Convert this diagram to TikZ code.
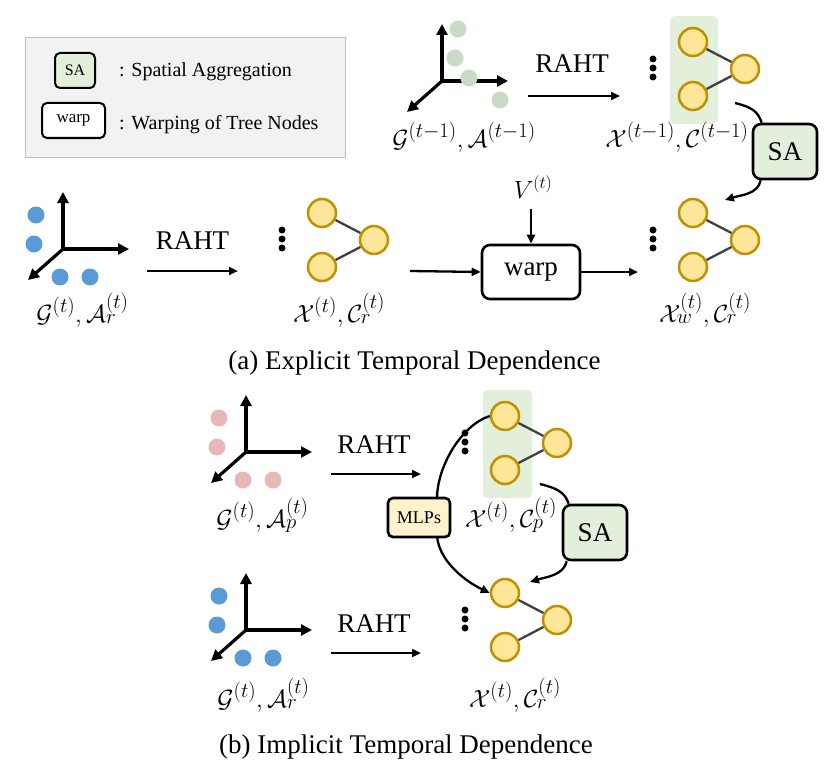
\documentclass[tikz,border=0pt]{standalone}
\usepackage{fontspec}
\setmainfont{Liberation Serif}
\usetikzlibrary{arrows.meta}
\definecolor{treefill}{RGB}{255,230,153}
\definecolor{treeline}{RGB}{191,144,0}
\definecolor{edgegray}{RGB}{64,64,64}
\definecolor{hlgreen}{RGB}{226,239,218}
\definecolor{safill}{RGB}{226,239,218}
\definecolor{ptgreen}{RGB}{200,219,196}
\definecolor{ptblue}{RGB}{91,155,213}
\definecolor{ptpink}{RGB}{230,184,183}
\definecolor{mlpfill}{RGB}{255,242,204}
\definecolor{legbg}{RGB}{242,242,242}
\definecolor{legline}{RGB}{191,191,191}
\tikzset{
  tn/.style={circle,draw=treeline,fill=treefill,line width=2.5pt,minimum size=28pt,inner sep=0pt},
  tedge/.style={draw=edgegray,line width=2.3pt},
  axisboth/.style={line width=3.2pt,line join=miter,{Triangle[length=11pt,width=11pt]}-{Triangle[length=11pt,width=11pt]}},
  axisarrow/.style={line width=3.2pt,line cap=round,-{Triangle[length=11pt,width=11pt]}},
  flow/.style={line width=2.3pt,-{Triangle[length=9pt,width=8pt]}},
  curv/.style={line width=2.3pt},
  curvarrow/.style={line width=2.3pt,-{Triangle[length=9pt,width=8pt]}},
  dotpt/.style={circle,inner sep=0pt,minimum size=17pt},
  vdot/.style={circle,fill=black,inner sep=0pt,minimum size=7pt},
  hlrect/.style={fill=hlgreen,rounded corners=5pt},
  sabig/.style={draw,rounded corners=8pt,fill=safill,line width=2.6pt,minimum width=64pt,minimum height=55pt,inner sep=0pt,font=\fontsize{27}{30}\selectfont},
  warpbig/.style={draw,rounded corners=8pt,fill=white,line width=2.6pt,minimum width=98pt,minimum height=54pt,inner sep=0pt,font=\fontsize{27}{32}\selectfont},
  mlpbox/.style={draw,rounded corners=5pt,fill=mlpfill,line width=2.6pt,minimum width=62pt,minimum height=39pt,inner sep=0pt,font=\fontsize{18}{22}\selectfont},
  sasmall/.style={draw,rounded corners=5pt,fill=safill,line width=2pt,minimum width=40pt,minimum height=35pt,inner sep=0pt,font=\fontsize{16}{19}\selectfont},
  warpsmall/.style={draw,rounded corners=5pt,fill=white,line width=2pt,minimum width=63pt,minimum height=35pt,inner sep=0pt,font=\fontsize{17}{20}\selectfont},
  legtext/.style={anchor=base west,inner sep=0pt,font=\fontsize{20}{24}\selectfont},
  bigtext/.style={anchor=base,inner sep=0pt,font=\fontsize{27}{32}\selectfont},
  mathlabel/.style={anchor=base,inner sep=0pt,font=\fontsize{30}{34}\selectfont},
}
\newcommand\mktree[3]{%
  \node[tn] (#11) at (#2,#3) {};
  \path (#11) ++(52,27) node[tn] (#12) {};
  \path (#11) ++(0,54) node[tn] (#13) {};
  \draw[tedge] (#11) -- (#12) (#13) -- (#12);
  \path (#11) ++(-40,17) node[vdot] (#1da) {} ++(0,9) node[vdot] (#1db) {} ++(0,9) node[vdot] (#1dc) {};
}
\newcommand\mkaxes[3]{%
  \coordinate (#1o) at (#2,#3);
  \path (#1o) ++(0,-57) coordinate (#1u);
  \path (#1o) ++(66,0) coordinate (#1r);
  \path (#1o) ++(-35,31) coordinate (#1d);
  \draw[axisboth] (#1u) -- (#1o) -- (#1r);
  \draw[axisarrow] (#1o) -- (#1d);
}
\newcommand\mkpts[2]{%
  \path (#1o) ++(-27,-34) node[dotpt,fill=#2] (#1p1) {};
  \path (#1o) ++(-29,-5) node[dotpt,fill=#2] (#1p2) {};
  \path (#1o) ++(-3,28) node[dotpt,fill=#2] (#1p3) {};
  \path (#1o) ++(27,28) node[dotpt,fill=#2] (#1p4) {};
}
\begin{document}
\begin{tikzpicture}[x=1pt,y=-1pt]
\useasboundingbox (0,0) rectangle (831,768);
% legend
\node[draw=legline,fill=legbg,line width=0.8pt,minimum width=320pt,minimum height=120pt,inner sep=0pt] (legend) at (185,97) {};
\node[sasmall] (legsa) at (75,70.5) {SA};
\node[legtext] (legsat) at (119,76.5) {: Spatial Aggregation};
\node[warpsmall] (legwarp) at (73.5,120.5) {warp};
\node[legtext] (legwarpt) at (119,129.5) {: Warping of Tree Nodes};

% ---------- (a) top row, t-1 ----------
\mkaxes{ta}{442}{81}
\path (tao) ++(16,-52) node[dotpt,fill=ptgreen] (tap1) {};
\path (tao) ++(13,-23) node[dotpt,fill=ptgreen] (tap2) {};
\path (tao) ++(27,-3) node[dotpt,fill=ptgreen] (tap3) {};
\path (tao) ++(58,19) node[dotpt,fill=ptgreen] (tap4) {};
\node[mathlabel] (talab) at (464,147) {$\mathcal{G}^{(t-1)},\mathcal{A}^{(t-1)}$};
\coordinate (ra1s) at (528,96);
\coordinate (ra1e) at (620,96);
\draw[flow] (ra1s) -- (ra1e);
\node[bigtext] (raht1) at (572,73) {RAHT};
\fill[hlrect] (670,16) rectangle (718,124);
\mktree{tt}{693}{42}
\node[mathlabel] (ttlab) at (677,147) {$\mathcal{X}^{(t-1)},\mathcal{C}^{(t-1)}$};
\node[sabig] (sa1) at (785,151.5) {SA};
\coordinate (sa1in) at (735,103);
\draw[curv] (sa1in) .. controls +(16,4) and +(-4,-12) .. ([xshift=10pt]sa1.north west);
\coordinate (sa1out) at (725,200);
\draw[curvarrow] ([xshift=9pt]sa1.south west) .. controls +(-3,14) and +(16,-5) .. (sa1out);

% ---------- (a) middle row ----------
\mkaxes{ma}{63}{249}
\mkpts{ma}{ptblue}
\node[mathlabel] (malab) at (82.5,322) {$\mathcal{G}^{(t)},\mathcal{A}_r^{(t)}$};
\coordinate (ra2s) at (147,271);
\coordinate (ra2e) at (238,271);
\draw[flow] (ra2s) -- (ra2e);
\node[bigtext] (raht2) at (192.5,249) {RAHT};
\mktree{mt}{322}{213}
\node[mathlabel] (mtlab) at (339,322) {$\mathcal{X}^{(t)},\mathcal{C}_r^{(t)}$};
\node[warpbig] (warp) at (531,272) {warp};
\coordinate (win) at (410,271);
\draw[flow] (win) -- (warp.west);
\coordinate (wout) at (638,272);
\draw[flow] (warp.east) -- (wout);
\node[anchor=base,inner sep=0pt,font=\fontsize{25}{28}\selectfont] (vt) at (533,198) {$V^{(t)}$};
\coordinate (vs) at (531,209);
\draw[flow] (vs) -- (warp.north);
\mktree{rt}{693}{213}
\node[mathlabel] (rtlab) at (705,322) {$\mathcal{X}_w^{(t)},\mathcal{C}_r^{(t)}$};
\node[bigtext] (capa) at (414.5,369) {(a) Explicit Temporal Dependence};

% ---------- (b) top row ----------
\mkaxes{pa}{246}{452}
\mkpts{pa}{ptpink}
\node[mathlabel] (palab) at (262.5,527) {$\mathcal{G}^{(t)},\mathcal{A}_p^{(t)}$};
\coordinate (ra3s) at (331,474);
\coordinate (ra3e) at (421,474);
\draw[flow] (ra3s) -- (ra3e);
\node[bigtext] (raht3) at (374,453) {RAHT};
\fill[hlrect] (483,390) rectangle (532,498);
\mktree{pt}{505}{416}
\node[mathlabel] (ptlab) at (511,527) {$\mathcal{X}^{(t)},\mathcal{C}_p^{(t)}$};

% ---------- (b) bottom row ----------
\mkaxes{ba}{246}{630}
\mkpts{ba}{ptblue}
\node[mathlabel] (balab) at (263.5,707) {$\mathcal{G}^{(t)},\mathcal{A}_r^{(t)}$};
\coordinate (ra4s) at (331,653);
\coordinate (ra4e) at (421,653);
\draw[flow] (ra4s) -- (ra4e);
\node[bigtext] (raht4) at (374,632) {RAHT};
\mktree{bt}{505}{593}
\node[mathlabel] (btlab) at (515,707) {$\mathcal{X}^{(t)},\mathcal{C}_r^{(t)}$};

% MLPs arcs
\coordinate (mlpin) at (437,499);
\coordinate (mlpout) at (437,536);
\draw[curv] (pt1.west) .. controls +(-28,9) and +(0,-33) .. (mlpin);
\draw[curvarrow] (mlpout) .. controls +(2,25) and +(-25,-12) .. (bt1.west);
\node[mlpbox] (mlp) at (419,517.5) {MLPs};

% SA (b)
\node[sabig] (sa2) at (595,532.5) {SA};
\coordinate (sa2in) at (540,484);
\draw[curv] (sa2in) .. controls +(16,4) and +(-4,-12) .. ([xshift=7pt]sa2.north west);
\coordinate (sa2out) at (530,582);
\draw[curvarrow] ([xshift=5pt]sa2.south west) .. controls +(-3,14) and +(16,-5) .. (sa2out);

\node[bigtext] (capb) at (406,753) {(b) Implicit Temporal Dependence};
\end{tikzpicture}
\end{document}
